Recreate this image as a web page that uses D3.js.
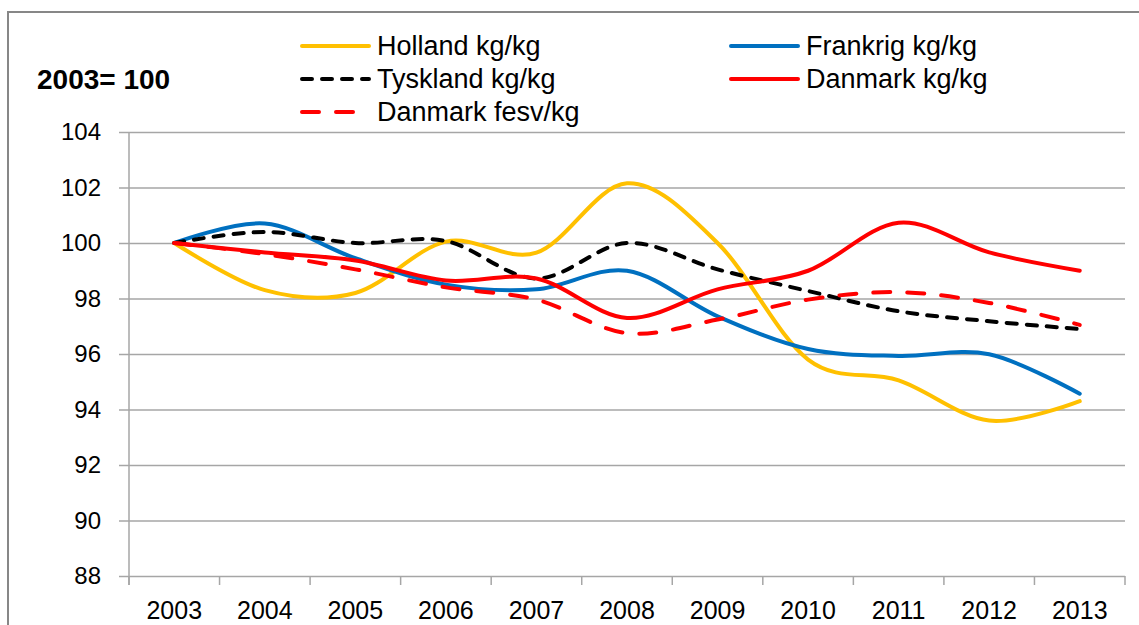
<!DOCTYPE html>
<html>
<head>
<meta charset="utf-8">
<script src="https://cdn.jsdelivr.net/npm/d3@7"></script>
<style>
  body { margin: 0; background: #fff; }
  svg { display: block; font-family: "Liberation Sans", Arial, sans-serif; }
</style>
</head>
<body>
<svg width="1139" height="625"></svg>
<script>
const years = ["2003","2004","2005","2006","2007","2008","2009","2010","2011","2012","2013"];
const yTicks = [88, 90, 92, 94, 96, 98, 100, 102, 104];

const holland   = [100, 98.3, 98.2, 100.05, 99.65, 102.15, 100.0, 95.8, 95.05, 93.6, 94.3];
const frankrig  = [100, 100.7, 99.45, 98.5, 98.33, 99.0, 97.36, 96.18, 95.93, 95.99, 94.57];
const tyskland  = [100, 100.4, 100.0, 100.07, 98.72, 100.0, 99.05, 98.27, 97.54, 97.18, 96.9];
const danmark   = [100, 99.66, 99.37, 98.65, 98.72, 97.3, 98.33, 99.0, 100.73, 99.66, 99.0];
const danmarkFesv = [100, 99.6, 99.05, 98.4, 97.96, 96.75, 97.24, 97.96, 98.23, 97.84, 97.05];

const series = [
  { name: "Holland kg/kg",   values: holland,     color: "#FFC000", dash: null,    col: 0, row: 0 },
  { name: "Frankrig kg/kg",  values: frankrig,    color: "#0070C0", dash: null,    col: 1, row: 0 },
  { name: "Tyskland kg/kg",  values: tyskland,    color: "#000000", dash: "10,10", col: 0, row: 1 },
  { name: "Danmark kg/kg",   values: danmark,     color: "#FF0000", dash: null,    col: 1, row: 1 },
  { name: "Danmark fesv/kg", values: danmarkFesv, color: "#FF0000", dash: "17,17", col: 0, row: 2 }
];

const svg = d3.select("svg");

// frame
svg.append("rect")
  .attr("x", 8).attr("y", 12)
  .attr("width", 1160).attr("height", 640)
  .attr("fill", "none")
  .attr("stroke", "#878787")
  .attr("stroke-width", 2);

const plotL = 129, plotR = 1125, plotT = 132, plotB = 576;

const x = d3.scaleBand().domain(years).range([plotL, plotR]).paddingInner(0).paddingOuter(0);
const y = d3.scaleLinear().domain([88, 104]).range([plotB, plotT]);
const cx = d => x(d) + x.bandwidth() / 2;

// y axis + grid
const yAxis = svg.append("g")
  .attr("transform", `translate(${plotL},0)`)
  .call(d3.axisLeft(y).tickValues(yTicks).tickSize(-(plotR - plotL)).tickPadding(28));
yAxis.select(".domain").remove();
yAxis.selectAll(".tick line")
  .attr("x1", -10)
  .attr("stroke", "#a6a6a6")
  .attr("stroke-width", 1.5);
yAxis.selectAll(".tick text")
  .attr("fill", "#000")
  .style("font-size", "24px")
  .style("font-family", "Liberation Sans, Arial, sans-serif");

svg.append("line")
  .attr("x1", plotL).attr("x2", plotL)
  .attr("y1", plotT).attr("y2", plotB + 9)
  .attr("stroke", "#a6a6a6").attr("stroke-width", 1.5);

// x axis
const xAxis = svg.append("g")
  .attr("transform", `translate(0,${plotB})`)
  .call(d3.axisBottom(x).tickSize(0).tickPadding(25));
xAxis.select(".domain").remove();
xAxis.selectAll(".tick text")
  .attr("fill", "#000")
  .style("font-size", "25px")
  .style("font-family", "Liberation Sans, Arial, sans-serif");

const bounds = years.map(d => x(d)).concat([plotR]);
svg.append("g").selectAll("line")
  .data(bounds)
  .join("line")
  .attr("x1", d => d).attr("x2", d => d)
  .attr("y1", plotB).attr("y2", plotB + 9)
  .attr("stroke", "#a6a6a6").attr("stroke-width", 1.5);

// lines
const line = d3.line()
  .x((v, i) => cx(years[i]))
  .y(v => y(v))
  .curve(d3.curveCardinal.tension(0));

svg.append("g").selectAll("path")
  .data(series)
  .join("path")
  .attr("d", d => line(d.values))
  .attr("fill", "none")
  .attr("stroke", d => d.color)
  .attr("stroke-width", 4)
  .attr("stroke-linecap", "round")
  .attr("stroke-dasharray", d => d.dash);

// legend
const legendX = [300, 729];
const legendY = [46, 79, 112];
const lg = svg.append("g").selectAll("g")
  .data(series)
  .join("g")
  .attr("transform", d => `translate(${legendX[d.col]},${legendY[d.row]})`);

lg.append("line")
  .attr("x1", 2).attr("x2", 69)
  .attr("stroke", d => d.color)
  .attr("stroke-width", 4)
  .attr("stroke-linecap", "round")
  .attr("stroke-dasharray", d => d.dash);

lg.append("text")
  .attr("x", 77)
  .attr("dy", "0.35em")
  .style("font-size", "27px")
  .text(d => d.name);

// unit label
svg.append("text")
  .attr("x", 37).attr("y", 79)
  .attr("dy", "0.35em")
  .style("font-size", "28px")
  .style("font-weight", "bold")
  .text("2003= 100");
</script>
</body>
</html>
